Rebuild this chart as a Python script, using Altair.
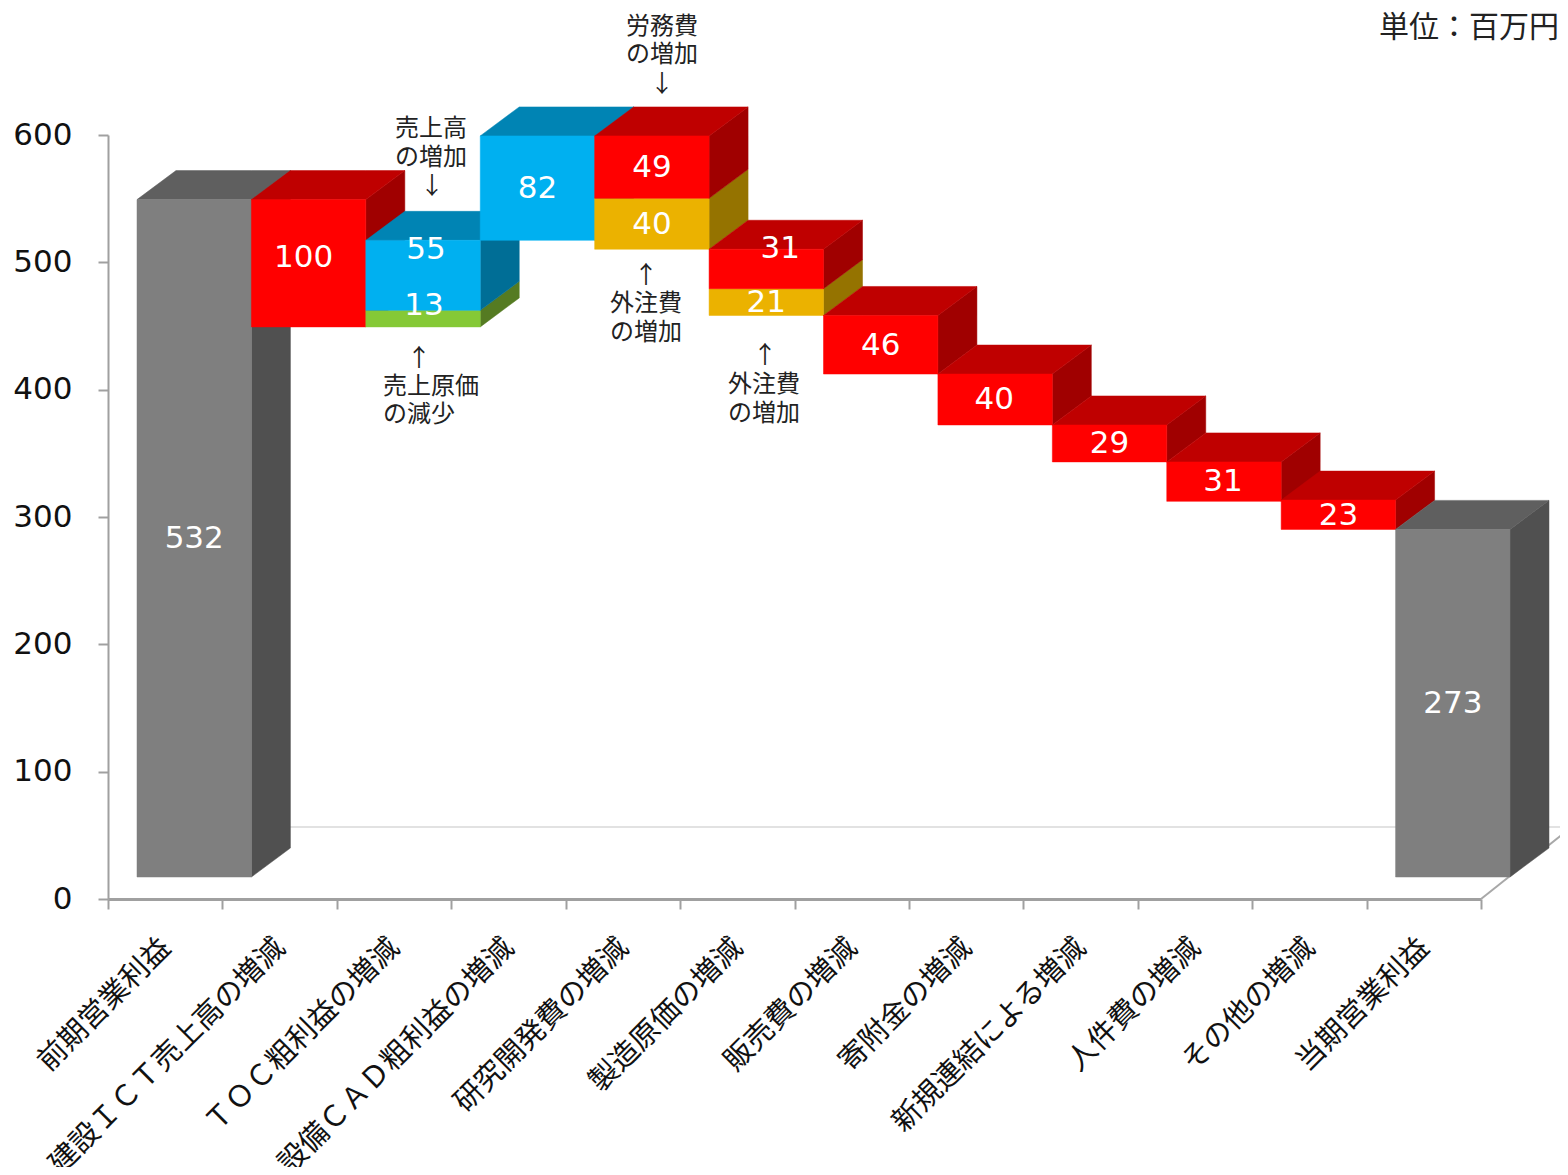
import altair as alt
import pandas as pd

FONT = "DejaVu Sans, Noto Sans CJK JP"
JP = "Noto Sans CJK JP"

categories = ["前期営業利益", "建設ＩＣＴ売上高の増減", "ＴＯＣ粗利益の増減", "設備ＣＡＤ粗利益の増減",
              "研究開発費の増減", "製造原価の増減", "販売費の増減", "寄附金の増減",
              "新規連結による増減", "人件費の増減", "その他の増減", "当期営業利益"]

# one entry per visible block, painted in this order
piece_col = [0, 1, 2, 2, 3, 4, 4, 5, 5, 6, 7, 8, 9, 10, 11]
piece_base = [0, 432, 432, 445, 500, 493, 533, 441, 462, 395, 355, 326, 295, 273, 0]
piece_value = [532, 100, 13, 55, 82, 40, 49, 21, 31, 46, 40, 29, 31, 23, 273]
piece_kind = ["total", "down", "green", "up", "up", "gold", "down", "gold", "down",
              "down", "down", "down", "down", "down", "total"]
piece_is_top = [True, True, False, True, True, False, True, False, True,
                True, True, True, True, True, True]
label_dx = [0, -5, 1, 3, 0, 0, 0, 0, 14, 0, -1, 0, -1, 0, 0]
label_dy = [1, -5, -13, -25, 1, 1, 1, 1, -20, 1, 0, 1, 0, 1, 1]

colors = {
    "total": ("#7F7F7F", "#5F5F5F", "#505050"),
    "down": ("#FF0000", "#BF0000", "#A00000"),
    "up": ("#00B0F0", "#0084B4", "#006E96"),
    "green": ("#85C936", "#5F8F28", "#557B22"),
    "gold": ("#EBB200", "#B08500", "#957300"),
}

# annotations: text, column-axis px, y px, align, size
notes = [
    ("労務費", 662, 27, "center", 24), ("の増加", 662, 55, "center", 24), ("↓", 662, 85, "center", 24),
    ("売上高", 431, 129, "center", 24), ("の増加", 431, 158, "center", 24), ("↓", 432, 187, "center", 24),
    ("↑", 419, 359, "center", 24), ("売上原価", 383, 387, "left", 24), ("の減少", 383, 415, "left", 24),
    ("↑", 646, 276, "center", 24), ("外注費", 646, 304, "center", 24), ("の増加", 646, 333, "center", 24),
    ("↑", 765, 356, "center", 24), ("外注費", 764, 385, "center", 24), ("の増加", 764, 414, "center", 24),
    ("単位：百万円", 1379, 28, "left", 30),
]

PX_X = 1373 / 12
PX_Y = 764 / 600
to_x = lambda px: (px - 108) / PX_X
to_y = lambda py: (899 - py) / PX_Y

OFF_X = 29 / PX_X      # gap between axis and front plane
LIFT = 22 / PX_Y
DX = 39 / PX_X         # box depth
DY = 29 / PX_Y

xs = alt.Scale(domain=[0, 12], nice=False, zero=False)
ys = alt.Scale(domain=[0, 600], nice=False, zero=False)
x_axis = alt.Axis(values=list(range(13)), labels=False, grid=False, title=None, domainColor="#A0A0A0",
                  domainWidth=3, tickColor="#A0A0A0", tickWidth=2, tickSize=10)
y_axis = alt.Axis(values=list(range(0, 601, 100)), grid=False, title=None, domainColor="#A0A0A0",
                  domainWidth=2, tickColor="#A0A0A0", tickWidth=2, tickSize=10, labelFont=FONT,
                  labelFontSize=31, labelColor="#111111", labelPadding=26)
X = lambda f="x": alt.X(f, type="quantitative", scale=xs, axis=x_axis)
Y = lambda f="y": alt.Y(f, type="quantitative", scale=ys, axis=y_axis)
Y2 = alt.Y2("y2")


def face(points, color):
    df = pd.DataFrame(points, columns=["x", "y", "y2"])
    return alt.Chart(df).mark_area(color=color, orient="vertical", interpolate="linear",
                                   stroke=color, strokeWidth=0.5).encode(x=X(), y=Y(), y2=Y2)


def line(x0, y0, x1, y1, color, width):
    df = pd.DataFrame({"x": [x0, x1], "y": [y0, y1]})
    return alt.Chart(df).mark_line(color=color, strokeWidth=width).encode(x=X(), y=Y())


layers = []

# back wall / floor lines
layers.append(line(to_x(290), to_y(827), to_x(1568), to_y(827), "#E2E2E2", 2))
layers.append(line(12, 0, to_x(1568), to_y(830), "#A8A8A8", 2))

# blocks
for col, base, val, kind, is_top in zip(piece_col, piece_base, piece_value, piece_kind, piece_is_top):
    front, top, side = colors[kind]
    x0 = col + OFF_X
    x1 = x0 + 1
    yb = base + LIFT
    yt = base + val + LIFT
    layers.append(face([(x1, yb, yt), (x1 + DX, yb + DY, yt + DY)], side))
    if is_top:
        layers.append(face([(x0, yt, yt), (x0 + DX, yt, yt + DY), (x1, yt, yt + DY),
                            (x1 + DX, yt + DY, yt + DY)], top))
    df = pd.DataFrame({"x": [x0], "x2": [x1], "y": [yb], "y2": [yt]})
    layers.append(alt.Chart(df).mark_rect(color=front, stroke=front, strokeWidth=0.5).encode(
        x=X(), x2=alt.X2("x2"), y=Y(), y2=Y2))

# block value labels
for col, base, val, dx, dy in zip(piece_col, piece_base, piece_value, label_dx, label_dy):
    df = pd.DataFrame({"x": [col + OFF_X + 0.5], "y": [base + val / 2 + LIFT], "t": [str(val)]})
    layers.append(alt.Chart(df).mark_text(color="white", font=FONT, fontSize=31, align="center",
                                          baseline="middle", dx=dx, dy=dy).encode(
        x=X(), y=Y(), text="t:N"))

# category labels
cat_df = pd.DataFrame({"x": [i + 0.5 + 0.006 for i in range(12)], "y": [to_y(943)] * 12, "t": categories})
layers.append(alt.Chart(cat_df).mark_text(color="#111111", font=JP, fontSize=29, angle=315, align="right",
                                          baseline="middle").encode(x=X(), y=Y(), text="t:N"))

# annotations
for text, px, py, align, size in notes:
    df = pd.DataFrame({"x": [to_x(px)], "y": [to_y(py)], "t": [text]})
    layers.append(alt.Chart(df).mark_text(color="#222222", font=JP, fontSize=size, align=align,
                                          baseline="middle").encode(x=X(), y=Y(), text="t:N"))

chart = alt.layer(*layers).properties(
    width=1373, height=764,
    padding={"left": 100, "top": 127, "right": 79, "bottom": 268},
    autosize=alt.AutoSizeParams(type="none"),
    background="white",
).configure_view(stroke=None)

chart.save("out.html", embed_options={"renderer": "svg", "actions": False})
